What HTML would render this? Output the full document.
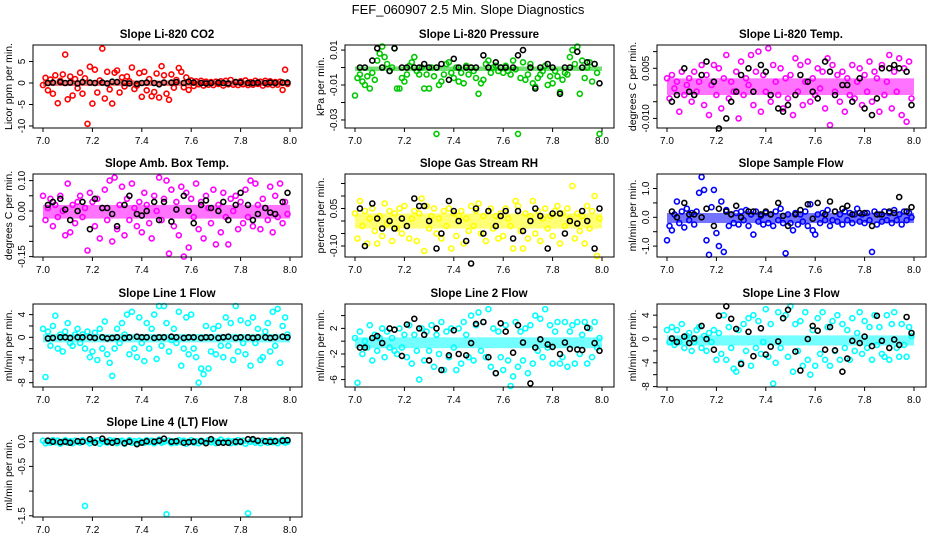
<!DOCTYPE html>
<html><head><meta charset="utf-8"><style>
html,body{margin:0;padding:0;background:#fff;}
svg{display:block;font-family:"Liberation Sans",Arial,sans-serif;}
</style></head><body>
<svg id="chart" width="936" height="540" viewBox="0 0 936 540" xmlns="http://www.w3.org/2000/svg">
<rect width="936" height="540" fill="#fff"/>
<text x="468" y="14" text-anchor="middle" font-size="13">FEF_060907  2.5 Min. Slope Diagnostics</text>
</svg>
<script>
const times = [7.00,7.01,7.02,7.03,7.04,7.05,7.06,7.07,7.08,7.09,7.10,7.11,7.12,7.13,7.14,7.15,7.16,7.17,7.18,7.19,7.20,7.21,7.22,7.23,7.24,7.25,7.26,7.27,7.28,7.29,7.30,7.31,7.32,7.33,7.34,7.35,7.36,7.37,7.38,7.39,7.40,7.41,7.42,7.43,7.44,7.45,7.46,7.47,7.48,7.49,7.50,7.51,7.52,7.53,7.54,7.55,7.56,7.57,7.58,7.59,7.60,7.61,7.62,7.63,7.64,7.65,7.66,7.67,7.68,7.69,7.70,7.71,7.72,7.73,7.74,7.75,7.76,7.77,7.78,7.79,7.80,7.81,7.82,7.83,7.84,7.85,7.86,7.87,7.88,7.89,7.90,7.91,7.92,7.93,7.94,7.95,7.96,7.97,7.98,7.99];
const blackTimes = [7.02,7.04,7.07,7.09,7.11,7.14,7.16,7.19,7.21,7.24,7.26,7.28,7.30,7.33,7.35,7.38,7.40,7.42,7.45,7.47,7.49,7.52,7.54,7.57,7.59,7.61,7.64,7.66,7.68,7.71,7.73,7.75,7.78,7.80,7.83,7.85,7.87,7.90,7.92,7.94,7.97,7.99];
const xTicks = [7.0,7.2,7.4,7.6,7.8,8.0];
const xTickLabels = ["7.0","7.2","7.4","7.6","7.8","8.0"];

const co2Values = [-0.5,1.2,-1.7,0.8,-2.5,1.8,-4.7,0.5,2.0,6.6,-3.8,1.5,-2.9,0.9,-1.2,2.4,-2.5,1.1,-9.5,3.8,-4.8,3.1,-2.2,0.6,8.0,-3.6,2.6,-1.5,-4.8,2.4,2.9,-2.2,1.3,-0.8,1.5,0.4,3.6,-1.4,-0.6,2.3,-3.2,2.6,-1.7,0.9,-3.1,-2.1,2.2,-3.4,3.9,1.8,-2.5,-3.9,2.0,-1.1,0.7,3.5,2.6,-1.0,1.3,-1.6,0.6,-0.7,0.4,-0.3,0.5,-0.6,0.3,-0.4,0.2,-0.5,0.3,-0.2,0.4,-0.6,0.5,-0.3,0.7,-0.4,0.2,-0.5,0.4,-0.3,0.6,-0.5,0.2,-0.4,0.5,-0.2,0.3,-0.6,0.5,-0.3,0.4,-0.5,0.2,-0.4,0.3,-1.6,3.1,-0.2];
const co2Black = [0,0.1,0.2,0,0.1,-0.1,0.2,0.1,0,0.1,-0.1,0.3,0.2,0,-0.1,-0.2,0,0.1,0,-0.3,0.1,0.1,0.2,0,0.3,0.1,0,-0.1,0,0.1,0,-0.1,0.2,0.1,0,0,0.1,0,0.1,0,0.1,0.1];
const co2Band = [-0.7,0.6];

const pressureValues = [-0.016,-0.006,-0.004,-0.008,-0.010,-0.005,-0.012,-0.003,-0.007,0.004,0.008,0.012,0.006,0.002,-0.002,0,0.011,-0.012,-0.012,-0.006,-0.008,-0.004,0.001,0.003,0.006,-0.002,-0.004,0,-0.012,-0.004,-0.012,0,-0.005,-0.038,-0.010,-0.008,-0.004,0.002,0.003,-0.003,-0.006,0,-0.008,-0.003,-0.009,0.001,-0.004,0,-0.002,-0.006,-0.015,-0.009,-0.007,0.002,0.004,-0.003,0,0.001,-0.002,0,-0.003,0.001,-0.002,-0.004,0.004,-0.001,-0.038,-0.006,0.003,-0.007,-0.004,0.002,-0.009,-0.011,-0.006,-0.004,-0.002,0.001,-0.010,-0.005,-0.009,-0.002,-0.005,-0.014,-0.007,-0.003,-0.004,0.006,0.010,0.002,0.012,-0.015,0.004,-0.006,0,0.003,-0.008,0.002,-0.003,-0.038];
const pressureBlack = [0,0,0.004,0.011,0,-0.002,0.011,0,0,0,0,0.002,0,0,0.002,-0.007,0.005,0,0,0,0,0.007,0,0.003,0,0,0,0.007,0.010,0,-0.012,0,0.002,0,-0.015,0,0,0.009,0,0.003,0.002,-0.009];
const pressureBand = [-0.002,0.0006];

const licorTempValues = [0.002,-0.004,0.003,-0.001,0.001,-0.008,0.004,-0.003,0.0,0.002,-0.005,0.004,-0.002,0.001,0.006,-0.006,0.003,-0.009,0.0,0.006,-0.003,0.005,-0.007,0.002,0.009,-0.004,0.001,-0.002,0.004,-0.010,0.007,-0.003,0.002,0.0,0.009,-0.006,0.004,0.010,-0.008,0.003,-0.002,0.011,-0.005,0.006,0.001,-0.003,0.005,-0.007,0.002,-0.004,0.003,-0.009,0.008,-0.002,0.006,-0.006,0.001,0.007,-0.005,0.002,-0.003,0.005,-0.001,0.004,-0.007,0.008,-0.012,0.006,-0.002,0.003,-0.005,0.004,-0.008,0.002,-0.003,0.006,-0.004,0.001,0.005,-0.006,0.003,-0.002,0.007,-0.005,0.004,0.002,-0.008,0.006,-0.003,0.001,0.009,-0.007,0.004,-0.002,0.008,-0.009,0.005,-0.011,0.007,-0.004];
const licorTempBlack = [-0.005,-0.003,0.005,-0.002,-0.003,0.003,0.007,0.001,-0.013,-0.010,-0.005,-0.002,0.003,0.005,-0.002,0.006,0.004,-0.003,-0.007,-0.008,-0.006,-0.003,0.003,0.001,-0.002,-0.004,0.007,0.004,-0.003,0,0,-0.005,0.002,-0.007,-0.009,-0.004,0.005,0.005,0.006,0.005,0.004,-0.006];
const licorTempBand = [-0.003,0.002];

const ambTempValues = [0.05,-0.03,0.01,0.04,-0.05,0.02,-0.02,0.05,0.00,-0.08,0.09,-0.07,0.02,-0.04,0.03,0.05,-0.02,0.01,-0.13,0.06,0.03,-0.05,0.04,-0.09,0.01,0.07,-0.03,0.10,-0.10,0.11,-0.06,0.02,0.08,-0.08,0.04,-0.03,0.09,0.01,-0.05,0.03,-0.07,0.06,0.02,-0.04,-0.09,0.05,0.00,0.11,-0.03,0.04,0.10,-0.14,0.07,-0.05,0.03,-0.08,0.08,-0.15,0.06,-0.12,0.04,-0.02,0.09,-0.06,0.03,-0.09,0.05,0.01,-0.04,0.07,-0.11,0.02,-0.07,0.06,-0.02,-0.11,0.04,0.00,0.05,-0.06,0.03,-0.04,0.07,-0.02,0.10,-0.05,0.09,0.02,-0.06,0.04,0.01,-0.03,0.08,-0.07,0.05,-0.02,0.09,-0.04,0.03,-0.01];
const ambTempBlack = [0.02,0.03,0.04,0.005,-0.03,0.0,0.03,-0.06,0.04,0.01,0.01,-0.01,-0.05,0.02,0.05,-0.01,-0.015,0.0,0.03,-0.03,0.03,-0.035,0.005,0.05,0.0,-0.04,0.02,0.035,0.01,0.0,0.03,-0.03,0.02,0.06,0.02,-0.03,-0.01,0.01,-0.005,-0.01,0.03,0.06];
const ambTempBand = [-0.025,0.02];

const rhValues = [0.03,-0.07,0.08,-0.02,0.04,-0.09,0.01,0.05,-0.04,-0.09,0.02,-0.06,0.07,-0.01,0.04,-0.08,0.03,-0.03,0.05,-0.05,0.06,-0.02,-0.07,0.01,0.04,-0.08,0.03,0.09,-0.12,0.06,-0.03,0.02,0.05,-0.05,0.01,-0.07,0.04,-0.02,0.05,-0.11,0.03,-0.06,0.02,0.04,-0.09,0.01,-0.04,0.06,-0.02,0.04,0.07,-0.05,0.02,-0.08,0.04,0.05,-0.03,0.02,-0.07,0.03,-0.06,0.05,0.01,-0.02,-0.11,0.08,0.06,-0.04,-0.11,0.03,-0.07,0.02,0.08,-0.05,0.04,-0.08,0.01,0.05,-0.03,0.02,-0.06,0.04,0.06,-0.09,0.03,-0.02,0.05,0.01,0.14,-0.07,0.03,-0.04,0.02,-0.09,0.06,-0.03,0.04,0.10,-0.14,0.01];
const rhBlack = [0.05,-0.10,0.07,0.01,-0.03,0.0,-0.03,0.01,-0.02,0.09,0.06,0.06,0.0,-0.11,-0.05,0.08,0.04,0.0,-0.08,-0.17,0.05,-0.05,0.04,-0.02,0.02,0.04,-0.07,0.04,-0.04,0.0,0.05,0.02,-0.11,0.03,0.03,-0.05,0.0,-0.01,0.04,0.0,-0.11,0.05];
const rhBand = [-0.03,0.03];

const sampleFlowValues = [-0.8,-0.3,-0.45,0.1,0.55,-0.2,0.2,-0.35,0.3,-0.1,0.15,-0.25,0.2,0.85,1.4,0.95,-0.8,-1.3,0.35,0.95,-0.55,-1.0,0.55,-1.2,0.25,-0.3,0.1,-0.2,0.15,-0.25,0.2,-0.1,0.25,-0.3,0.1,-0.6,0.2,-0.15,0.05,-0.25,0.15,-0.2,0.1,-0.3,0.2,-0.1,0.3,-0.2,-1.25,0.1,-0.2,-0.45,0.15,-0.25,0.1,-0.15,0.2,-0.3,0.45,-0.45,-0.6,0.1,-0.2,0.15,-0.1,0.25,-0.3,-0.1,0.2,-0.15,0.1,-0.25,0.2,-0.1,0.15,-0.2,0.1,0.3,-0.15,0.1,-0.2,0.15,-0.1,-1.2,0.2,-0.25,0.1,-0.15,0.2,-0.1,0.15,-0.2,0.25,-0.1,0.1,-0.25,0.2,-0.1,0.15,0.0];
const sampleFlowBlack = [0.2,0.0,0.5,0.1,0.1,0.0,0.3,-0.3,0.3,0.2,0.1,0.4,0.0,0.2,0.2,0.1,0.2,0.1,0.5,0.05,-0.3,0.1,0.25,0.45,-0.05,0.5,0.1,0.55,0.2,0.3,0.4,0.1,0.15,0.15,-0.3,0.1,0.1,0.2,0.15,0.7,0.2,0.35];
const sampleFlowBand = [-0.2,0.15];

const line1Values = [1.5,-7.0,1.0,-1.5,2.0,3.8,-2.0,0.5,-2.5,1.0,2.5,-1.0,-1.5,0.5,1.5,-1.0,0.5,-2.0,1.0,-3.5,-2.5,0.8,-4.0,1.5,-2.0,2.8,-3.0,-4.5,-6.8,-2.0,1.5,-1.0,2.5,0.5,4.0,-3.0,4.5,-2.0,-3.5,3.5,-1.0,-4.2,2.5,-2.0,1.5,4.0,-3.8,5.5,-1.5,5.5,2.5,-2.5,-0.5,1.5,-1.0,4.5,-5.0,-2.0,3.5,-3.0,4.0,-2.0,-3.5,-8.0,-5.5,-6.5,2.0,-5.5,-2.5,1.5,-3.0,2.0,-1.5,-3.5,3.5,-1.5,2.5,-4.0,5.5,-2.5,3.0,-1.0,-3.0,2.5,-5.0,3.5,-1.0,1.5,-4.0,-3.5,1.0,2.5,-2.5,4.5,-1.5,5.0,-4.5,2.0,3.5,0.5];
const line1Black = [-0.2,-0.1,0,0,-0.1,0,0,0,-0.1,0,-0.2,-0.1,0,-0.1,0,0.1,0,0,-0.1,0,0,0.1,0,-0.1,0,0,-0.1,0,0,-0.1,0,0.1,-0.1,0,0,-0.1,0,0,-0.1,0,0.1,0];
const line1Band = [-0.9,0.6];

const line2Values = [0.5,-6.5,1.5,-2.0,0.0,-1.0,2.5,-3.0,1.0,-1.5,0.5,2.0,-2.5,1.5,-1.0,0.5,-1.5,-2.0,2.0,-1.0,1.0,-2.5,2.5,-3.5,1.0,-1.5,-6.0,2.0,-3.0,1.5,-1.5,2.5,-4.0,1.0,-2.0,3.0,-4.5,1.5,-2.5,2.0,-1.0,-4.5,2.0,-3.5,3.0,1.0,-2.5,4.0,-3.0,2.5,4.5,-1.5,3.0,-2.5,5.0,-4.0,2.0,-5.0,1.5,-2.5,-4.5,2.5,-3.0,-7.0,-5.5,3.0,-4.0,1.5,-3.0,2.0,-5.0,2.5,-3.5,4.0,-1.5,3.5,-2.5,5.0,-1.0,2.5,-3.5,1.5,3.0,-3.5,-2.5,3.0,-4.0,1.5,2.5,-3.5,3.0,-2.0,1.0,3.0,-3.5,2.0,-2.5,3.0,-1.0,0.5];
const line2Black = [-1.0,-1.0,0.5,0.8,-0.3,2.0,1.8,-2.3,2.6,3.5,2.0,1.0,-3.0,2.0,-4.5,-2.2,1.7,-2.0,-2.2,-0.3,2.7,3.0,-2.5,-5.0,2.8,1.5,-1.8,2.5,-0.2,-6.6,-1.0,0.3,-0.5,-0.9,-2.0,-0.2,-1.2,-1.3,-1.4,2.1,-0.3,-1.5];
const line2Band = [-1.1,0.6];

const line3Values = [1.5,-0.5,2.0,-1.0,1.5,-0.5,2.5,-1.5,0.5,1.0,-2.0,-0.5,1.5,2.0,-1.5,0.5,-2.0,1.0,-0.5,1.5,-3.5,1.0,-2.5,4.0,-3.5,2.0,-1.5,-5.0,-5.5,1.5,-4.0,2.5,-2.0,3.5,-4.5,4.0,-1.5,3.0,-2.5,-0.5,5.0,-3.0,2.5,-7.5,-4.0,4.5,-1.5,3.5,4.0,-3.0,5.5,-5.5,2.5,-2.0,3.0,-4.5,4.5,-3.5,-6.0,1.5,-4.5,3.5,-2.5,4.5,-3.5,2.0,-4.5,3.0,-2.0,4.0,-3.5,2.5,-1.5,1.5,-3.5,3.5,-2.0,1.0,4.5,-2.5,3.0,-1.5,2.0,-3.5,4.0,-1.0,2.0,-2.5,-3.0,4.0,-3.5,2.5,4.5,-1.5,-3.0,2.5,-1.0,-3.0,2.0,0.5];
const line3Black = [0.1,-0.5,0.4,-0.7,0.1,2.2,0.0,-1.8,3.9,5.5,3.4,1.7,-4.2,1.2,-2.9,1.8,-2.6,-1.3,-0.4,3.5,4.9,-2.1,-5.3,0.0,2.2,1.4,-1.8,2.0,-1.9,-5.5,-3.3,-0.3,-0.7,0.4,-1.2,3.9,-0.3,-1.5,-0.1,-1.0,3.7,1.0];
const line3Band = [-1.1,0.6];

const line4Values = [0.02,-0.03,0.01,-0.02,0.03,-0.01,0.02,-0.04,0.0,0.03,-0.02,0.01,-0.03,0.02,0.0,-0.02,0.03,-1.30,0.01,-0.03,0.02,-0.01,0.03,-0.04,0.01,0.0,-0.02,0.03,-0.01,0.02,-0.03,0.01,0.02,-0.04,0.0,0.03,-0.02,0.01,-0.03,0.02,0.0,-0.02,0.03,-0.01,0.02,-0.03,0.01,0.04,-0.02,0.0,-1.47,0.02,-0.03,0.01,-0.02,0.03,-0.01,0.02,-0.04,0.0,0.03,-0.02,0.01,-0.03,0.02,0.0,-0.02,0.03,-0.01,0.02,-0.03,0.01,0.04,-0.02,0.0,0.02,-0.03,0.01,-0.02,0.03,-0.01,0.02,-0.04,-1.45,0.0,0.03,-0.02,0.01,-0.03,0.02,0.0,-0.02,0.03,-0.01,0.02,-0.03,0.01,0.04,-0.02,0.0];
const line4Black = [0.02,0.0,-0.01,0.0,-0.02,0.01,0.0,0.05,-0.02,0.06,0.0,-0.02,0.01,-0.03,0.0,-0.05,-0.02,0.01,0.0,0.02,0.06,0.0,0.01,-0.02,-0.01,0.0,0.01,-0.03,0.05,-0.02,-0.02,-0.02,0.0,0.0,0.05,0.05,0.02,0.01,0.0,0.01,0.02,0.03];
const line4Band = [-0.05,0.04];

const NS = "http://www.w3.org/2000/svg";
const svg = document.getElementById("chart");
function mk(tag, attrs, parent){ const e=document.createElementNS(NS,tag); for(const k in attrs) e.setAttribute(k,attrs[k]); (parent||svg).appendChild(e); return e; }

const panels = [
 {key:"co2",title:"Slope Li-820 CO2",ylab:"Licor ppm per min.",col:0,row:0,color:"#ff0000",vals:co2Values,blk:co2Black,band:co2Band,ymin:-10.47,ymax:8.84,ticks:[-10,-5,0,5],labels:["-10","-5","0","5"]},
 {key:"pressure",title:"Slope Li-820 Pressure",ylab:"kPa per min.",col:1,row:0,color:"#00c800",vals:pressureValues,blk:pressureBlack,band:pressureBand,ymin:-0.0346,ymax:0.0129,ticks:[-0.03,-0.02,-0.01,0,0.01],labels:["-0.03","","-0.01","","0.01"]},
 {key:"licor-temp",title:"Slope Li-820 Temp.",ylab:"degrees C per min.",col:2,row:0,color:"#ff00ff",vals:licorTempValues,blk:licorTempBlack,band:licorTempBand,ymin:-0.01287,ymax:0.01198,ticks:[-0.01,-0.005,0,0.005,0.01],labels:["-0.010","","","0.005",""]},
 {key:"amb-temp",title:"Slope Amb. Box Temp.",ylab:"degrees C per min.",col:0,row:1,color:"#ff00ff",vals:ambTempValues,blk:ambTempBlack,band:ambTempBand,ymin:-0.1513,ymax:0.1217,ticks:[-0.15,-0.1,-0.05,0,0.05,0.1],labels:["-0.15","","","0.00","","0.10"]},
 {key:"rh",title:"Slope Gas Stream RH",ylab:"percent per min.",col:1,row:1,color:"#ffff00",vals:rhValues,blk:rhBlack,band:rhBand,ymin:-0.144,ymax:0.188,ticks:[-0.1,-0.05,0,0.05,0.1,0.15],labels:["-0.10","","","0.05","",""]},
 {key:"sample-flow",title:"Slope Sample Flow",ylab:"ml/min per min.",col:2,row:1,color:"#0000ff",vals:sampleFlowValues,blk:sampleFlowBlack,band:sampleFlowBand,ymin:-1.378,ymax:1.503,ticks:[-1,-0.5,0,0.5,1],labels:["-1.0","","0.0","","1.0"]},
 {key:"line1",title:"Slope Line 1 Flow",ylab:"ml/min per min.",col:0,row:2,color:"#00ffff",vals:line1Values,blk:line1Black,band:line1Band,ymin:-8.76,ymax:5.87,ticks:[-8,-6,-4,-2,0,2,4],labels:["-8","","-4","","0","","4"]},
 {key:"line2",title:"Slope Line 2 Flow",ylab:"ml/min per min.",col:1,row:2,color:"#00ffff",vals:line2Values,blk:line2Black,band:line2Band,ymin:-7.16,ymax:5.81,ticks:[-6,-4,-2,0,2,4],labels:["-6","","-2","","2",""]},
 {key:"line3",title:"Slope Line 3 Flow",ylab:"ml/min per min.",col:2,row:2,color:"#00ffff",vals:line3Values,blk:line3Black,band:line3Band,ymin:-8.07,ymax:5.88,ticks:[-8,-6,-4,-2,0,2,4],labels:["-8","","-4","","0","","4"]},
 {key:"line4",title:"Slope Line 4 (LT) Flow",ylab:"ml/min per min.",col:0,row:3,color:"#00ffff",vals:line4Values,blk:line4Black,band:line4Band,ymin:-1.524,ymax:0.176,ticks:[-1.5,-1,-0.5,0],labels:["-1.5","","-0.5","0.0"]}
];
const rowTop=[45,174,304,433], rowBot=[128,257,387,517];

panels.forEach(p=>{
  const x0=p.col*312, top=rowTop[p.row], bot=rowBot[p.row];
  const left=x0+33, right=x0+302;
  const xs=v=>x0+43+(v-7.0)*247;
  const ys=v=>bot-(v-p.ymin)/(p.ymax-p.ymin)*(bot-top);
  const g=mk("g",{});
  
  
  const t=mk("text",{x:x0+167,y:top-7,"text-anchor":"middle","font-size":"11.5","font-weight":"bold"},g);
  t.textContent=p.title;
  
  
  const b=mk("rect",{x:xs(7.0),y:ys(p.band[1]),width:xs(8.0)-xs(7.0),height:ys(p.band[0])-ys(p.band[1]),fill:p.color,opacity:"0.55"},g);
  
  
  const pg=mk("g",{fill:"none",stroke:p.color,"stroke-width":"1.6"},g);
  
  
  p.vals.forEach((v,i)=>{
    const c=mk("circle",{cx:xs(times[i]).toFixed(1),cy:ys(v).toFixed(1),r:"2.5"},pg);
    
    
  });
  const bg=mk("g",{fill:"none",stroke:"#000","stroke-width":"1.6"},g);
  
  
  p.blk.forEach((v,i)=>{
    const c=mk("circle",{cx:xs(blackTimes[i]).toFixed(1),cy:ys(v).toFixed(1),r:"2.5"},bg);
    
    
  });
  const box=mk("rect",{x:left,y:top,width:right-left,height:bot-top,fill:"none",stroke:"#000","stroke-width":"1"},g);
  
  
  xTicks.forEach((v,i)=>{
    mk("line",{x1:xs(v),x2:xs(v),y1:bot,y2:bot+4,stroke:"#000"},g);
    const l=mk("text",{x:xs(v),y:bot+16,"text-anchor":"middle","font-size":"10"},g);
    l.textContent=xTickLabels[i];
    
    
  });
  p.ticks.forEach((v,i)=>{
    const y=ys(v);
    mk("line",{x1:left-4,x2:left,y1:y,y2:y,stroke:"#000"},g);
    if(p.labels[i]){
      const l=mk("text",{x:0,y:0,"text-anchor":"middle","font-size":"10",transform:`translate(${left-8},${y}) rotate(-90)`},g);
      l.textContent=p.labels[i];
      
      
    }
  });
  const yl=mk("text",{x:0,y:0,"text-anchor":"middle","font-size":"10.5",transform:`translate(${x0+12},${(top+bot)/2}) rotate(-90)`},g);
  yl.textContent=p.ylab;
  
  
});
</script>
</body></html>
